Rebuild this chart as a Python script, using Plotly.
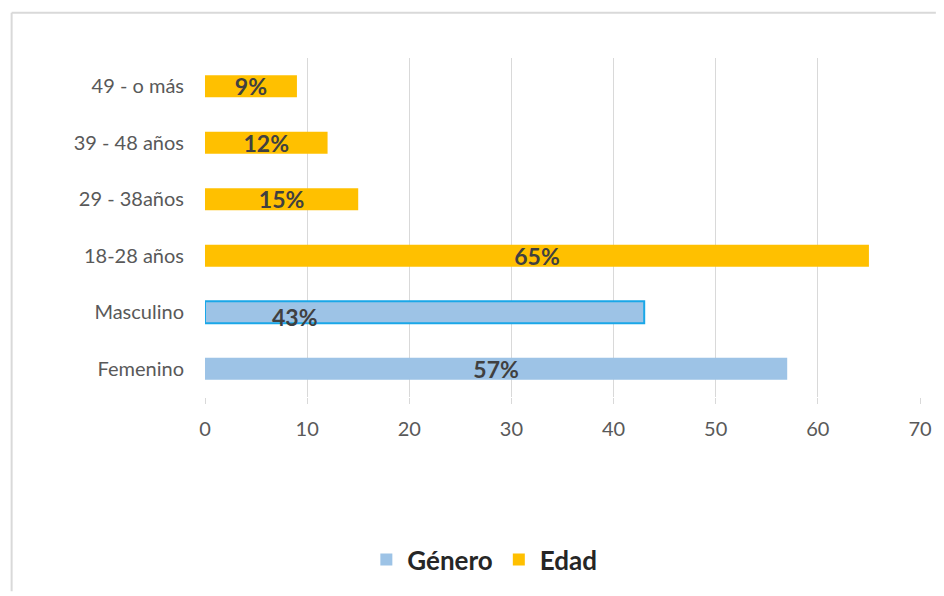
import plotly.graph_objects as go

categories = ["Femenino", "Masculino", "18-28 años", "29 - 38años", "39 - 48 años", "49 - o más"]
genero_cats = ["Femenino", "Masculino"]
genero_vals = [57, 43]
genero_labels = ["57%", ""]
edad_cats = ["18-28 años", "29 - 38años", "39 - 48 años", "49 - o más"]
edad_vals = [65, 15, 12, 9]
edad_labels = ["65%", "15%", "12%", "9%"]
x_ticks = [0, 10, 20, 30, 40, 50, 60, 70]

L, R, T, B = 205, 18, 57.5, 197.5
W, H = 944, 596
pw, ph = W - L - R, H - T - B

FONT = "Lato, Open Sans, sans-serif"
bar_text_font = dict(family=FONT, size=23, color="#404040", weight="bold")

fig = go.Figure()
fig.add_trace(go.Bar(
    y=genero_cats, x=genero_vals, orientation="h", name="Género",
    marker=dict(color="#9DC3E6", line=dict(color=["#9DC3E6", "#1AA7E8"], width=[0, 2])),
    text=genero_labels, textposition="inside", insidetextanchor="middle",
    textfont=bar_text_font, hoverinfo="x+y",
))
fig.add_trace(go.Bar(
    y=edad_cats, x=edad_vals, orientation="h", name="Edad",
    marker=dict(color="#FFC000", line=dict(width=0)),
    text=edad_labels, textposition="inside", insidetextanchor="middle",
    textfont=bar_text_font, hoverinfo="x+y",
))

# Masculino label sits off-centre in the original
fig.add_annotation(x=8.8, y="Masculino", text="<b>43%</b>", showarrow=False,
                   yshift=-5, font=dict(family=FONT, size=23, color="#404040"))

# chart border (left and top edges visible)
fig.add_shape(type="line", xref="paper", yref="paper",
              x0=(10 - L) / pw, x1=(10 - L) / pw, y0=(H - B - 12) / ph, y1=-(B - 2) / ph,
              line=dict(color="#D9D9D9", width=2))
fig.add_shape(type="line", xref="paper", yref="paper",
              x0=(10 - L) / pw, x1=(W - L - 2) / pw, y0=(H - B - 12) / ph, y1=(H - B - 12) / ph,
              line=dict(color="#D9D9D9", width=2))

fig.update_layout(
    width=W, height=H,
    margin=dict(l=L, r=R, t=T, b=B),
    paper_bgcolor="white", plot_bgcolor="white",
    barmode="relative", bargap=0.615,
    uniformtext=dict(minsize=23, mode="show"),
    showlegend=True,
    legend=dict(orientation="h", x=0.39, xanchor="center", y=-0.48, yanchor="middle",
                font=dict(family=FONT, size=26, color="#262626", weight="bold"),
                itemwidth=32, traceorder="normal"),
    xaxis=dict(range=[0, 70], tickvals=x_ticks, showgrid=True, gridcolor="#D9D9D9", gridwidth=1,
               zeroline=False, showline=False, ticks="outside", ticklen=6, tickcolor="#D9D9D9",
               ticklabelstandoff=8,
               tickfont=dict(family=FONT, size=20, color="#595959")),
    yaxis=dict(categoryorder="array", categoryarray=categories, showgrid=False, zeroline=False,
               showline=False, ticks="", ticklabelstandoff=20,
               tickfont=dict(family=FONT, size=20, color="#595959")),
)

fig.write_html("out.html")
